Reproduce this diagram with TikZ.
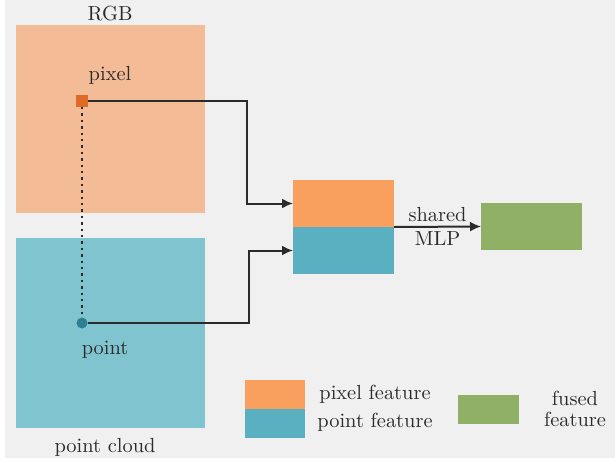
\documentclass[tikz,border=0pt]{standalone}
\usetikzlibrary{arrows.meta}
\definecolor{fusBack}{HTML}{F0F0F0}
\definecolor{fusRGB}{HTML}{F3BB96}
\definecolor{fusCloud}{HTML}{80C4D0}
\definecolor{fusPixel}{HTML}{F9A05E}
\definecolor{fusPoint}{HTML}{5AAFC0}
\definecolor{fusFused}{HTML}{8FB065}
\definecolor{fusPixDot}{HTML}{E06A28}
\definecolor{fusPtDot}{HTML}{2F7F92}
\definecolor{fusInk}{HTML}{2B2B2B}
\tikzset{
  fus box/.style={inner sep=0pt, outer sep=0pt},
  fus link/.style={draw=fusInk, line width=1pt, -{Latex[length=5.5pt,width=5pt]}},
  fus text/.style={font=\fontsize{10.2}{11.5}\selectfont, text=fusInk, inner sep=1pt},
}
\begin{document}
\begin{tikzpicture}[x=0.5pt, y=-0.5pt]
  \useasboundingbox (0,0) rectangle (615,460);
  \fill[white] (0,0) rectangle (615,460);
  \fill[fusBack] (5,0) rectangle (615,458);
  % Input images
  \node[fus box, fill=fusRGB, minimum width=94.5pt, minimum height=94pt] (rgb) at (110.5,119) {};
  \node[fus box, fill=fusCloud, minimum width=94.5pt, minimum height=95pt] (cloud) at (110.5,333) {};
  \node[fus text] (rgblabel) at (110,14) {RGB};
  \node[fus text] (cloudlabel) at (105,447) {point cloud};
  % Pixel and point
  \node[fus box, fill=fusPixDot, minimum size=6pt] (pix) at (82,101) {};
  \node[fus box, circle, fill=fusPtDot, minimum size=5.5pt] (pt) at (82,323) {};
  \node[fus text] (pixlabel) at (110,75) {pixel};
  \node[fus text] (ptlabel) at (105,350) {point};
  \draw[fusInk, dotted, line width=1.2pt] (pix.south) -- (pt.north);
  % Concatenated features
  \node[fus box, fill=fusPixel, minimum width=50.5pt, minimum height=23.5pt] (pixfeat) at (343.5,203.5) {};
  \node[fus box, fill=fusPoint, minimum width=50.5pt, minimum height=23.5pt] (ptfeat) at (343.5,250.5) {};
  \node[fus box, fill=fusFused, minimum width=50.5pt, minimum height=23.5pt] (fused) at (531.5,226.5) {};
  \draw[fus link] (pix.east) -| ([xshift=-23pt]pixfeat.west) -- (pixfeat.west);
  \draw[fus link] (pt.east) -| ([xshift=-22pt]ptfeat.west) -- (ptfeat.west);
  \draw[fus link] (pixfeat.south east) -- (fused.west)
    node[fus text, midway, above=1pt] (shared) {shared}
    node[fus text, midway, below=1pt] (mlp) {MLP};
  % Legend
  \node[fus box, fill=fusPixel, minimum width=30pt, minimum height=14.5pt] (legpix) at (275,394.5) {};
  \node[fus box, fill=fusPoint, minimum width=30pt, minimum height=14.5pt] (legpt) at (275,423.5) {};
  \node[fus box, fill=fusFused, minimum width=30.5pt, minimum height=14.5pt] (legfused) at (488.5,409.5) {};
  \node[fus text] (legpixlabel) at (375,394) {pixel feature};
  \node[fus text] (legptlabel) at (375,422) {point feature};
  \node[fus text, align=center] (legfusedlabel) at (575,409) {fused\\[-1pt]feature};
\end{tikzpicture}
\end{document}
